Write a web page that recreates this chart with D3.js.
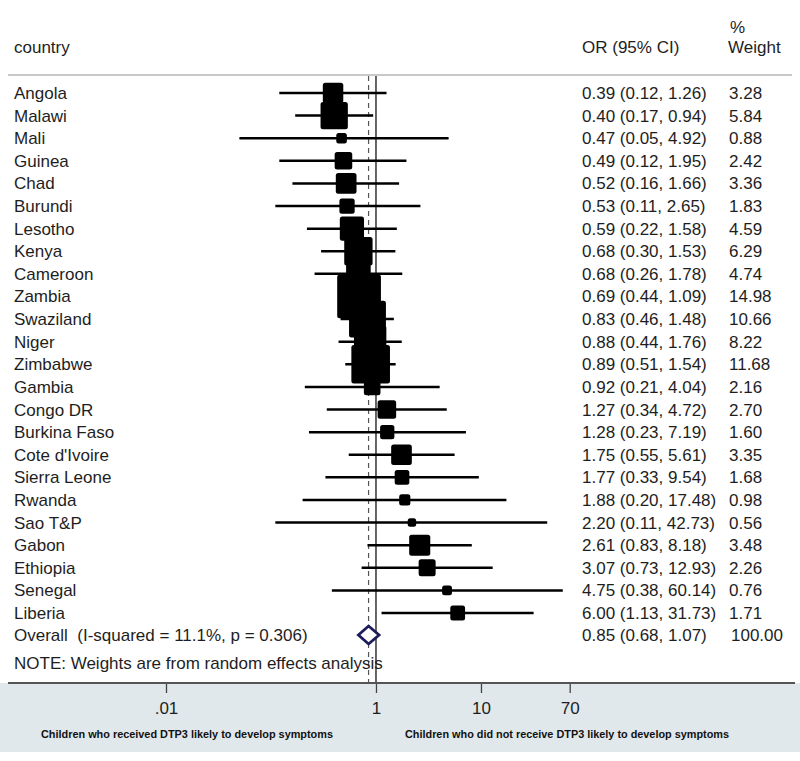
<!DOCTYPE html>
<html><head><meta charset="utf-8">
<script src="https://cdn.jsdelivr.net/npm/d3@7"></script>
<style>body{margin:0;background:#fff}svg{display:block}text{font-family:"Liberation Sans",Arial,sans-serif}</style>
</head><body><div id="chart"></div>
<script>
const countries = ["Angola","Malawi","Mali","Guinea","Chad","Burundi","Lesotho","Kenya","Cameroon","Zambia","Swaziland","Niger","Zimbabwe","Gambia","Congo DR","Burkina Faso","Cote d'Ivoire","Sierra Leone","Rwanda","Sao T&P","Gabon","Ethiopia","Senegal","Liberia"];
const orValues = [0.39,0.40,0.47,0.49,0.52,0.53,0.59,0.68,0.68,0.69,0.83,0.88,0.89,0.92,1.27,1.28,1.75,1.77,1.88,2.20,2.61,3.07,4.75,6.00];
const ciLower = [0.12,0.17,0.05,0.12,0.16,0.11,0.22,0.30,0.26,0.44,0.46,0.44,0.51,0.21,0.34,0.23,0.55,0.33,0.20,0.11,0.83,0.73,0.38,1.13];
const ciUpper = [1.26,0.94,4.92,1.95,1.66,2.65,1.58,1.53,1.78,1.09,1.48,1.76,1.54,4.04,4.72,7.19,5.61,9.54,17.48,42.73,8.18,12.93,60.14,31.73];
const weights = [3.28,5.84,0.88,2.42,3.36,1.83,4.59,6.29,4.74,14.98,10.66,8.22,11.68,2.16,2.70,1.60,3.35,1.68,0.98,0.56,3.48,2.26,0.76,1.71];
const overall = {label:"Overall  (I-squared = 11.1%, p = 0.306)", or:0.85, lo:0.68, hi:1.07, w:"100.00"};
const tickValues = [0.01,1,10,70];
const tickLabels = [".01","1","10","70"];
const leftNote = "Children who received DTP3 likely to develop symptoms";
const rightNote = "Children who did not receive DTP3 likely to develop symptoms";
const fmt = d3.format(".2f");

const W=800,H=761, FS=17;
const svg = d3.select("#chart").append("svg").attr("width",W).attr("height",H);
const x = d3.scaleLog().domain([0.01,70]).range([166,569.7]);
const y = d3.scaleLinear().domain([0,countries.length-1]).range([93,613]);
const yOverall = 635, axisY = 683, topY = 75;
const boxK = 11.3;
const ink = "#1e1e1e";

// bottom panel
svg.append("rect").attr("x",0).attr("y",axisY).attr("width",W).attr("height",752-axisY).attr("fill","#e0e8ec");
// header
svg.append("text").attr("x",14).attr("y",53).attr("font-size",FS).attr("fill",ink).text("country");
svg.append("text").attr("x",582).attr("y",53).attr("font-size",FS).attr("fill",ink).text("OR (95% CI)");
svg.append("text").attr("x",730).attr("y",33).attr("font-size",FS).attr("fill",ink).text("%");
svg.append("text").attr("x",728).attr("y",53).attr("font-size",FS).attr("fill",ink).text("Weight");
svg.append("line").attr("x1",8).attr("x2",792).attr("y1",topY).attr("y2",topY).attr("stroke","#c9c9c9").attr("stroke-width",2);

// reference lines
svg.append("line").attr("x1",x(1)).attr("x2",x(1)).attr("y1",topY+1).attr("y2",axisY).attr("stroke","#333").attr("stroke-width",1.5);
svg.append("line").attr("x1",x(overall.or)).attr("x2",x(overall.or)).attr("y1",topY+1).attr("y2",axisY).attr("stroke","#555").attr("stroke-width",1.2).attr("stroke-dasharray","5,4");

const rows = svg.append("g");
countries.forEach((c,i)=>{
  const yy=y(i);
  rows.append("line").attr("x1",x(ciLower[i])).attr("x2",x(ciUpper[i])).attr("y1",yy).attr("y2",yy).attr("stroke","#000").attr("stroke-width",2.5);
});
countries.forEach((c,i)=>{
  const yy=y(i), s=boxK*Math.sqrt(weights[i]);
  rows.append("rect").attr("x",x(orValues[i])-s/2).attr("y",yy-s/2).attr("width",s).attr("height",s).attr("rx",2.5).attr("fill","#000");
});
countries.forEach((c,i)=>{
  const yy=y(i);
  rows.append("text").attr("x",14).attr("y",yy+6).attr("font-size",FS).attr("fill",ink).text(c);
  rows.append("text").attr("x",582).attr("y",yy+6).attr("font-size",FS).attr("fill",ink).text(`${fmt(orValues[i])} (${fmt(ciLower[i])}, ${fmt(ciUpper[i])})`);
  rows.append("text").attr("x",729).attr("y",yy+6).attr("font-size",FS).attr("fill",ink).text(fmt(weights[i]));
});
// overall
const dh=9;
svg.append("path").attr("d",`M${x(overall.lo)},${yOverall} L${x(overall.or)},${yOverall-dh} L${x(overall.hi)},${yOverall} L${x(overall.or)},${yOverall+dh} Z`)
  .attr("fill","#fff").attr("stroke","#1c1c5a").attr("stroke-width",2.8);
svg.append("text").attr("x",14).attr("y",yOverall+6).attr("font-size",FS).attr("fill",ink).attr("xml:space","preserve").style("white-space","pre").text(overall.label);
svg.append("text").attr("x",582).attr("y",yOverall+6).attr("font-size",FS).attr("fill",ink).text(`${fmt(overall.or)} (${fmt(overall.lo)}, ${fmt(overall.hi)})`);
svg.append("text").attr("x",731).attr("y",yOverall+6).attr("font-size",FS).attr("fill",ink).text(overall.w);
svg.append("text").attr("x",14).attr("y",669).attr("font-size",FS).attr("fill",ink).text("NOTE: Weights are from random effects analysis");

// axis
const axis = d3.axisBottom(x).tickValues(tickValues).tickFormat((d,i)=>tickLabels[i]).tickSize(10).tickPadding(9);
const ag = svg.append("g").attr("transform",`translate(0,${axisY})`).call(axis);
ag.select(".domain").remove();
ag.selectAll(".tick line").attr("stroke","#444").attr("stroke-width",1.3);
ag.selectAll(".tick text").attr("font-size",FS).attr("fill",ink).attr("font-family","Liberation Sans, Arial, sans-serif");
svg.append("line").attr("x1",8).attr("x2",795).attr("y1",axisY).attr("y2",axisY).attr("stroke","#555").attr("stroke-width",2);

svg.append("text").attr("x",187).attr("y",738).attr("text-anchor","middle").attr("font-size",10).attr("font-weight","bold").attr("fill","#111").attr("textLength",292).attr("lengthAdjust","spacingAndGlyphs").text(leftNote);
svg.append("text").attr("x",567).attr("y",738).attr("text-anchor","middle").attr("font-size",10).attr("font-weight","bold").attr("fill","#111").attr("textLength",324).attr("lengthAdjust","spacingAndGlyphs").text(rightNote);
</script></body></html>
